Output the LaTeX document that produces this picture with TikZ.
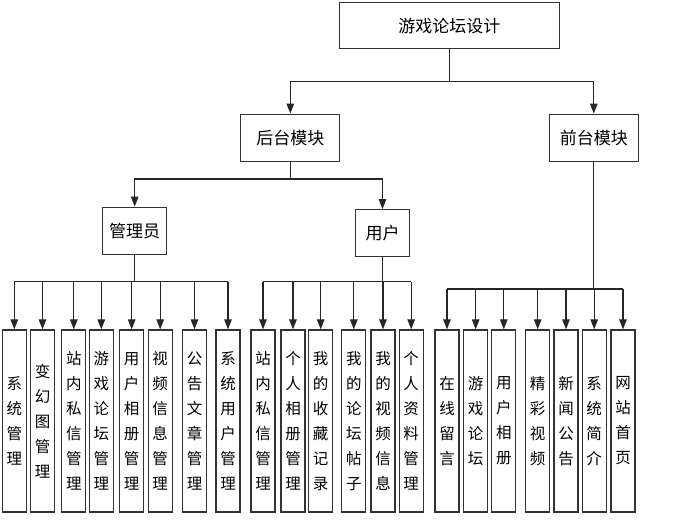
\documentclass[tikz,border=0pt]{standalone}
\usepackage{fontspec}
\newfontfamily\cjk{Noto Sans CJK SC}
\usepackage{tikz}
\usetikzlibrary{arrows.meta,positioning}

\begin{document}
\begin{tikzpicture}[x=1pt, y=-1pt,
  box/.style={rectangle, draw=black!80, line width=1.3pt, font=\cjk\fontsize{17}{17}\selectfont,
              text centered, inner sep=0pt},
  leaf/.style={box, font=\cjk\fontsize{15.5}{25}\selectfont, minimum width=24pt,
               minimum height=182pt, align=center},
  arr/.style={-{Triangle[length=10pt,width=7.5pt]}, line width=1.2pt, black!85},
  ln/.style={line width=1.2pt, black!85}
]
\useasboundingbox (0,0) rectangle (697,527);

\node[box, minimum width=220pt, minimum height=46pt] (root)  at (449.3,25.8)  {游戏论坛设计};
\node[box, minimum width=99pt,  minimum height=47pt] (back)  at (290.3,137.7) {后台模块};
\node[box, minimum width=89pt,  minimum height=47pt] (front) at (593.8,137.7) {前台模块};
\node[box, minimum width=64pt,  minimum height=47pt] (admin) at (134.7,230.8) {管理员};
\node[box, minimum width=54pt,  minimum height=47pt] (user)  at (382.5,233.3) {用户};

% junctions of the buses
\coordinate (j0) at (449.3,81.7);
\coordinate (j1) at (290.3,179);
\coordinate (ja) at (134.7,281.7);
\coordinate (ju) at (382.5,281.7);
\coordinate (jf) at (593.8,289);

% leaves
\foreach \x/\t [count=\i] in {14.3/{系\\统\\管\\理}, 42.5/{变\\幻\\图\\管\\理},
    73.8/{站\\内\\私\\信\\管\\理}, 101.3/{游\\戏\\论\\坛\\管\\理},
    131.7/{用\\户\\相\\册\\管\\理}, 160.2/{视\\频\\信\\息\\管\\理},
    194.5/{公\\告\\文\\章\\管\\理}, 228/{系\\统\\用\\户\\管\\理}}
  \node[leaf] (a\i) at (\x,421) {\t};
\foreach \x/\t [count=\i] in {263/{站\\内\\私\\信\\管\\理}, 293/{个\\人\\相\\册\\管\\理},
    320.7/{我\\的\\收\\藏\\记\\录}, 353.8/{我\\的\\论\\坛\\帖\\子},
    383/{我\\的\\视\\频\\信\\息}, 411.2/{个\\人\\资\\料\\管\\理}}
  \node[leaf] (u\i) at (\x,421) {\t};
\foreach \x/\t [count=\i] in {447/{在\\线\\留\\言}, 475.7/{游\\戏\\论\\坛},
    503.8/{用\\户\\相\\册}, 537.7/{精\\彩\\视\\频}, 566/{新\\闻\\公\\告},
    594.2/{系\\统\\简\\介}, 623/{网\\站\\首\\页}}
  \node[leaf] (f\i) at (\x,421) {\t};

% upper levels
\draw[ln]  (root) -- (j0);
\draw[arr] (j0) -| (back);
\draw[arr] (j0) -| (front);
\draw[ln]  (back) -- (j1);
\draw[arr] (j1) -| (admin);
\draw[arr] (j1) -| (user);

% buses to the leaves
\draw[ln] (admin) -- (ja);
\draw[ln] (a1 |- ja) -- (a8 |- ja);
\foreach \i in {1,...,8} \draw[arr] (a\i |- ja) -- (a\i);
\draw[ln] (user) -- (ju);
\draw[ln] (u1 |- ju) -- (u6 |- ju);
\foreach \i in {1,...,6} \draw[arr] (u\i |- ju) -- (u\i);
\draw[ln] (front) -- (jf);
\draw[ln] (f1 |- jf) -- (f7 |- jf);
\foreach \i in {1,...,7} \draw[arr] (f\i |- jf) -- (f\i);
\end{tikzpicture}
\end{document}
